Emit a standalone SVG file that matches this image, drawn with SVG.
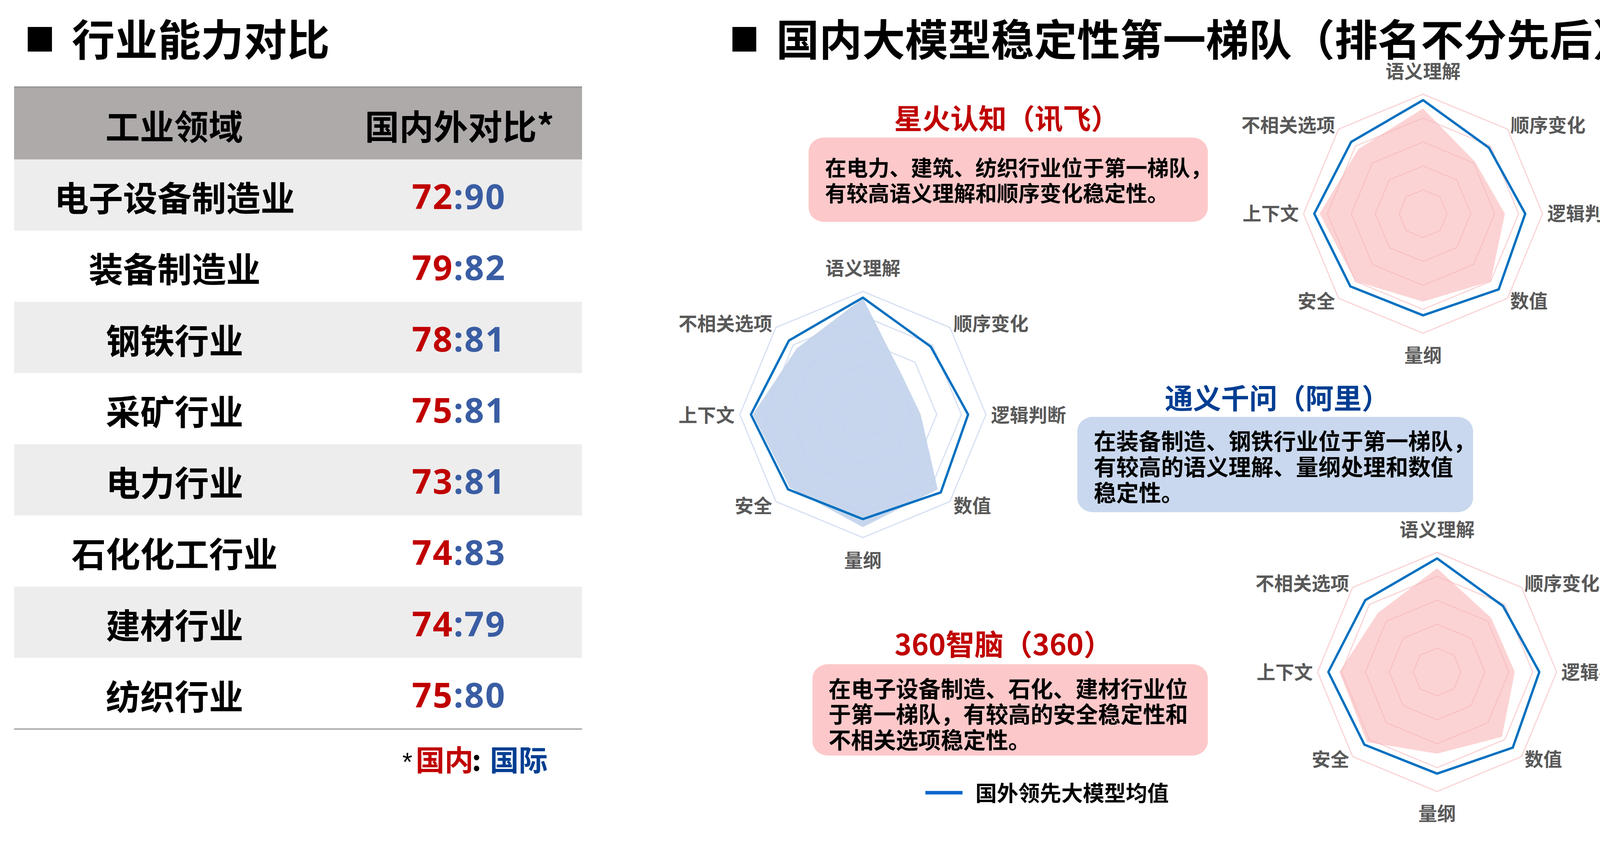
<svg xmlns="http://www.w3.org/2000/svg" width="4477" height="2191" viewBox="0 0 4477 2191">
<defs>
<style>
.cjk{font-family:"Noto Sans CJK SC","Noto Sans",sans-serif;font-weight:700;text-spacing-trim:space-all;font-feature-settings:"chws" 0,"halt" 0}
.title{font-size:110px;fill:#000}
.cell{font-size:88px;fill:#000;text-anchor:middle}
.num{font-family:"Noto Sans","Liberation Sans",sans-serif;font-weight:700;font-size:88px;letter-spacing:3px;text-anchor:middle}
.red{fill:#C00000}
.nblue{fill:#3A5DA3}
.dblue{fill:#003E92}
.lab{font-size:48px;fill:#595959}
.lab-e{text-anchor:end}
.lab-m{text-anchor:middle}
.gp{fill:none;stroke:#F5B8BA;stroke-opacity:0.6}
.gb{fill:none;stroke:#C3D3EC;stroke-opacity:0.7}
.avg{fill:none;stroke:#0070C0;stroke-linejoin:round}
.s306 .gp{stroke-width:0.98}
.s306 .avg{stroke-width:1.96}
.s315 .gb{stroke-width:0.95}
.s315 .avg{stroke-width:1.9}
.fp{fill:#FCD3D4;stroke:none}
.fb{fill:#C7D6EC;stroke:none}
.box-p{fill:#FDC8C9}
.box-b{fill:#C9D8EE}
.boxtxt{font-size:57.5px;fill:#000}
.hdrt{font-size:72px}
</style>
<g id="rings">
<polygon points="0,-100 70.71,-70.71 100,0 70.71,70.71 0,100 -70.71,70.71 -100,0 -70.71,-70.71"/>
<polygon points="0,-80 56.57,-56.57 80,0 56.57,56.57 0,80 -56.57,56.57 -80,0 -56.57,-56.57"/>
<polygon points="0,-60 42.43,-42.43 60,0 42.43,42.43 0,60 -42.43,42.43 -60,0 -42.43,-42.43"/>
<polygon points="0,-40 28.28,-28.28 40,0 28.28,28.28 0,40 -28.28,28.28 -40,0 -28.28,-28.28"/>
<polygon points="0,-20 14.14,-14.14 20,0 14.14,14.14 0,20 -14.14,14.14 -20,0 -14.14,-14.14"/>
</g>
<polygon id="avgline" points="0,-95 55.15,-55.15 85.5,0 63.29,63.29 0,85 -60.81,60.81 -91,0 -60.10,-60.10"/>
</defs>

<rect x="0" y="0" width="4477" height="2191" fill="#FFFFFF"/>

<!-- Left section -->
<g id="left-title">
<rect x="71" y="69" width="62" height="63" fill="#000"/>
<text class="cjk title" x="184" y="143">行业能力对比</text>
</g>

<g id="table">
<rect x="36" y="222" width="1454" height="186" fill="#AEAAAA"/>
<line x1="36" y1="223" x2="1490" y2="223" stroke="#9C9898" stroke-width="4"/>
<rect x="36" y="408" width="1454" height="182.25" fill="#EDEDED"/>
<rect x="36" y="772.5" width="1454" height="182.25" fill="#EDEDED"/>
<rect x="36" y="1137" width="1454" height="182.25" fill="#EDEDED"/>
<rect x="36" y="1501.5" width="1454" height="182.25" fill="#EDEDED"/>
<line x1="36" y1="1866" x2="1490" y2="1866" stroke="#AFAFAF" stroke-width="4"/>

<text class="cjk cell" x="446" y="357">工业领域</text>
<text class="cjk" x="934" y="357" style="font-size:88px">国内外对比*</text>

<text class="cjk cell" x="447" y="540">电子设备制造业</text>
<text class="num" x="1175" y="535"><tspan class="red">72</tspan><tspan class="nblue">:90</tspan></text>

<text class="cjk cell" x="447" y="722">装备制造业</text>
<text class="num" x="1175" y="717"><tspan class="red">79</tspan><tspan class="nblue">:82</tspan></text>

<text class="cjk cell" x="447" y="904.5">钢铁行业</text>
<text class="num" x="1175" y="899.5"><tspan class="red">78</tspan><tspan class="nblue">:81</tspan></text>

<text class="cjk cell" x="447" y="1087">采矿行业</text>
<text class="num" x="1175" y="1082"><tspan class="red">75</tspan><tspan class="nblue">:81</tspan></text>

<text class="cjk cell" x="447" y="1269">电力行业</text>
<text class="num" x="1175" y="1264"><tspan class="red">73</tspan><tspan class="nblue">:81</tspan></text>

<text class="cjk cell" x="447" y="1451">石化化工行业</text>
<text class="num" x="1175" y="1446"><tspan class="red">74</tspan><tspan class="nblue">:83</tspan></text>

<text class="cjk cell" x="447" y="1633.5">建材行业</text>
<text class="num" x="1175" y="1628.5"><tspan class="red">74</tspan><tspan class="nblue">:79</tspan></text>

<text class="cjk cell" x="447" y="1816">纺织行业</text>
<text class="num" x="1175" y="1811"><tspan class="red">75</tspan><tspan class="nblue">:80</tspan></text>
</g>

<g id="footnote">
<text class="cjk" y="1973" style="font-size:74px"><tspan x="1030" style="font-family:'Liberation Sans',sans-serif;font-weight:400;font-size:66px" fill="#000">*</tspan><tspan x="1064" class="red">国内</tspan><tspan x="1208" fill="#000">:</tspan><tspan x="1254" class="dblue">国际</tspan></text>
</g>

<!-- Right section -->
<g id="right-title">
<rect x="1875" y="69" width="61" height="63" fill="#000"/>
<text class="cjk title" x="1987" y="143">国内大模型稳定性第一梯队（排名不分先后）</text>
</g>

<g id="radar-xinghuo">
<g class="s306" transform="translate(3643 547) scale(3.06)">
<polygon class="fp" points="0,-88 43.49,-43.49 68.5,0 56.57,56.57 0,73.5 -56.57,56.57 -86.5,0 -54.09,-54.09"/>
<use href="#rings" class="gp"/>
<use href="#avgline" class="avg"/>
</g>
<text class="cjk lab lab-m" x="3643" y="199.5">语义理解</text>
<text class="cjk lab" x="3867" y="338">顺序变化</text>
<text class="cjk lab" x="3961" y="563.5">逻辑判断</text>
<text class="cjk lab" x="3866" y="788">数值</text>
<text class="cjk lab lab-m" x="3643" y="926.5">量纲</text>
<text class="cjk lab lab-e" x="3418" y="788">安全</text>
<text class="cjk lab lab-e" x="3325" y="563.5">上下文</text>
<text class="cjk lab lab-e" x="3418" y="338">不相关选项</text>
</g>

<g id="radar-tongyi">
<g class="s315" transform="translate(2209 1061) scale(3.15)">
<polygon class="fb" points="0,-94.5 31.82,-31.82 47,0 60.81,60.81 0,91.5 -59.40,59.40 -89.5,0 -53.74,-53.74"/>
<use href="#rings" class="gb"/>
<use href="#avgline" class="avg"/>
</g>
<text class="cjk lab lab-m" x="2209" y="704">语义理解</text>
<text class="cjk lab" x="2441" y="846">顺序变化</text>
<text class="cjk lab" x="2537" y="1080">逻辑判断</text>
<text class="cjk lab" x="2441" y="1311.5">数值</text>
<text class="cjk lab lab-m" x="2209" y="1451.6">量纲</text>
<text class="cjk lab lab-e" x="1977" y="1311.5">安全</text>
<text class="cjk lab lab-e" x="1881" y="1080">上下文</text>
<text class="cjk lab lab-e" x="1977" y="846">不相关选项</text>
</g>

<g id="radar-360">
<g class="s306" transform="translate(3679 1720) scale(3.06)">
<polygon class="fp" points="0,-86.7 45.25,-45.25 65,0 54.23,54.23 0,68.3 -58.69,58.69 -81.7,0 -49.50,-49.50"/>
<use href="#rings" class="gp"/>
<use href="#avgline" class="avg"/>
</g>
<text class="cjk lab lab-m" x="3679" y="1372.5">语义理解</text>
<text class="cjk lab" x="3903" y="1511">顺序变化</text>
<text class="cjk lab" x="3997" y="1738">逻辑判断</text>
<text class="cjk lab" x="3903" y="1961">数值</text>
<text class="cjk lab lab-m" x="3679" y="2099.5">量纲</text>
<text class="cjk lab lab-e" x="3454" y="1961">安全</text>
<text class="cjk lab lab-e" x="3361" y="1738">上下文</text>
<text class="cjk lab lab-e" x="3454" y="1511">不相关选项</text>
</g>

<g id="note-xinghuo">
<text class="cjk hdrt red" x="2289" y="330">星火认知（讯飞）</text>
<rect class="box-p" x="2070" y="352" width="1022" height="216" rx="40" ry="36"/>
<text class="cjk" x="2112" y="450" style="font-size:55px">在电力、建筑、纺织行业位于第一梯队，</text>
<text class="cjk" x="2112" y="515" style="font-size:55px">有较高语义理解和顺序变化稳定性。</text>
</g>

<g id="note-tongyi">
<text class="cjk hdrt dblue" x="2982" y="1046">通义千问（阿里）</text>
<rect class="box-b" x="2758" y="1067" width="1013" height="244" rx="40" ry="36"/>
<text class="cjk boxtxt" x="2800" y="1151">在装备制造、钢铁行业位于第一梯队，</text>
<text class="cjk boxtxt" x="2800" y="1217">有较高的语义理解、量纲处理和数值</text>
<text class="cjk boxtxt" x="2800" y="1283">稳定性。</text>
</g>

<g id="note-360">
<text class="cjk hdrt red" x="2290" y="1677" style="font-size:74px">360智脑（360）</text>
<rect class="box-p" x="2080" y="1700" width="1012" height="234" rx="40" ry="36"/>
<text class="cjk boxtxt" x="2121" y="1784.5">在电子设备制造、石化、建材行业位</text>
<text class="cjk boxtxt" x="2121" y="1849.5">于第一梯队，有较高的安全稳定性和</text>
<text class="cjk boxtxt" x="2121" y="1916">不相关选项稳定性。</text>
</g>

<g id="legend">
<line x1="2369" y1="2029" x2="2464" y2="2029" stroke="#0A66CC" stroke-width="9"/>
<text class="cjk" x="2497" y="2050" style="font-size:55px;fill:#000">国外领先大模型均值</text>
</g>
</svg>
